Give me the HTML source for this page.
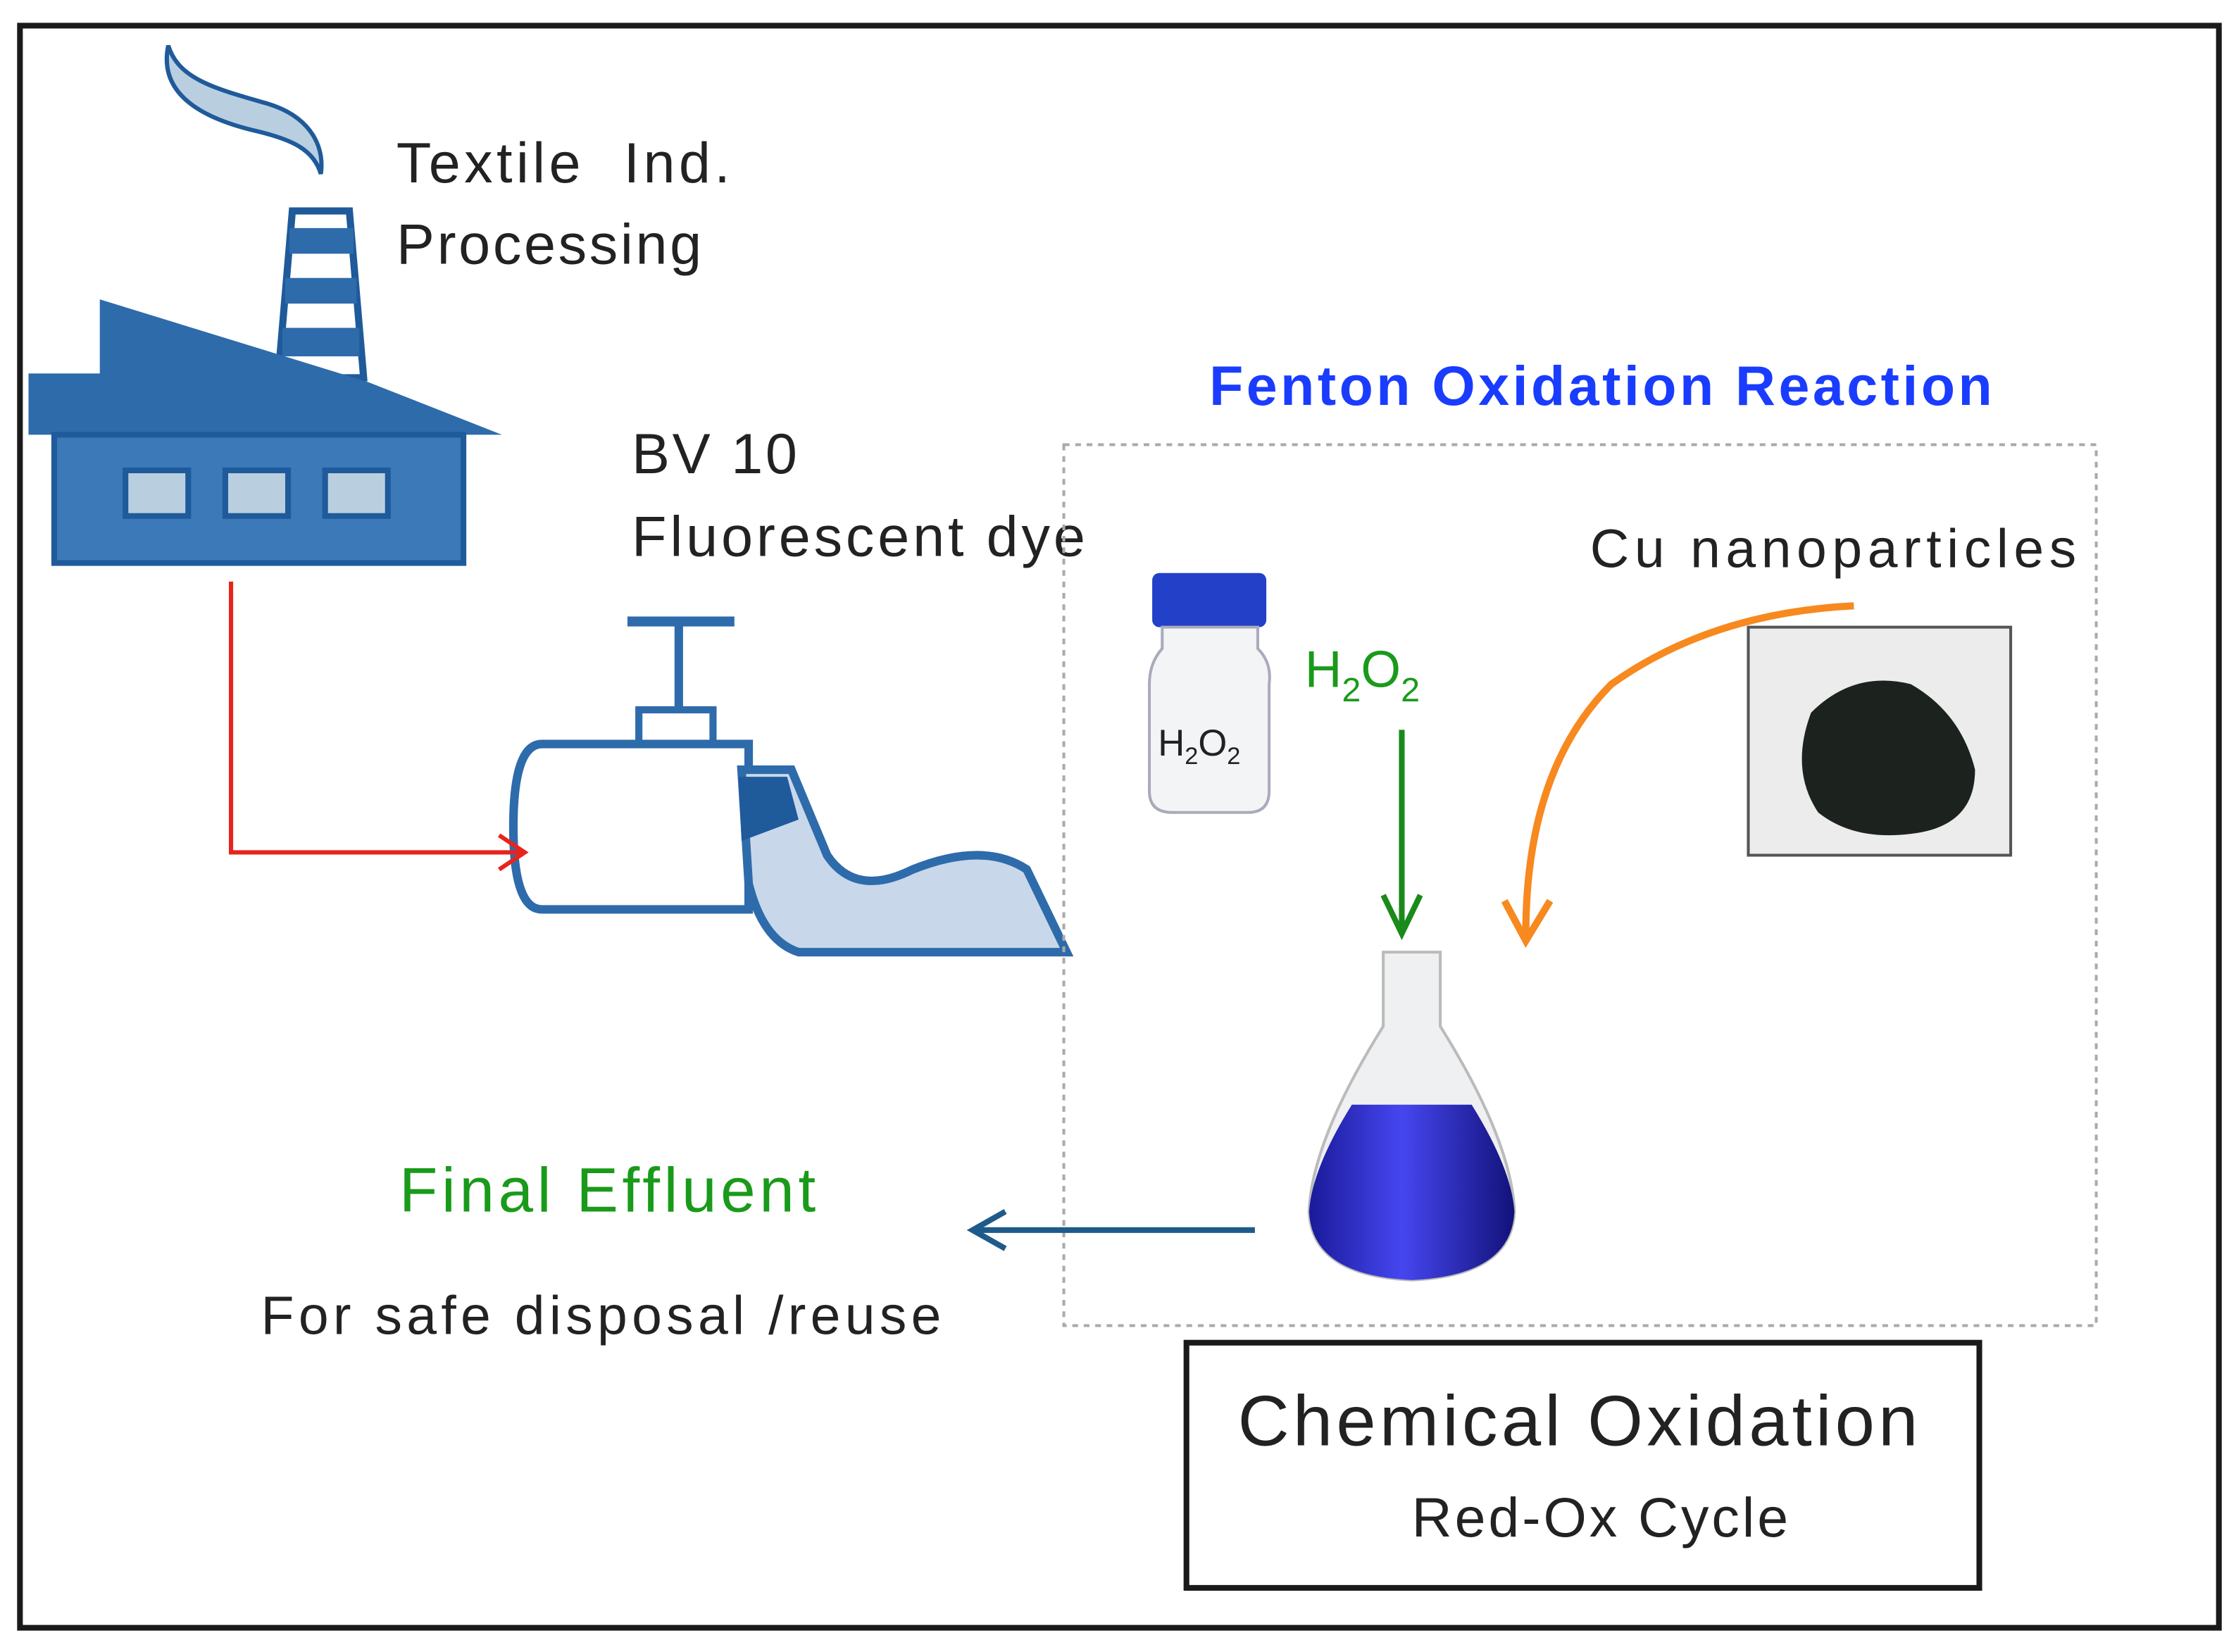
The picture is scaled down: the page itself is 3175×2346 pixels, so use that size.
<!DOCTYPE html>
<html><head><meta charset="utf-8"><style>
html,body{margin:0;padding:0;background:#fff;}
svg{display:block;}
text{font-family:"Liberation Sans",sans-serif;}
</style></head><body>
<svg width="3175" height="2346" viewBox="0 0 1568 1159" preserveAspectRatio="none" xmlns="http://www.w3.org/2000/svg">
<defs>
<linearGradient id="flask" x1="0" y1="0" x2="1" y2="0"><stop offset="0" stop-color="#1a1a9a"/><stop offset="0.45" stop-color="#4646f0"/><stop offset="1" stop-color="#12127a"/></linearGradient>
</defs>
<rect x="0" y="0" width="1568" height="1159" fill="#fff"/>
<rect x="14" y="18" width="1542" height="1124" fill="none" stroke="#1a1a1a" stroke-width="4"/>
<!-- smoke -->
<path d="M118,32 C110,70 150,85 180,92 C205,98 220,105 225,122 C228,100 215,80 185,72 C150,62 125,55 118,32 Z" fill="#b9cfe0" stroke="#1f5a9a" stroke-width="3"/>
<!-- chimney -->
<path d="M205,148 L245,148 L255,265 L195,265 Z" fill="#fff" stroke="#1f5a9a" stroke-width="5"/>
<rect x="203" y="160" width="45" height="18" fill="#2e6bab"/>
<rect x="200" y="195" width="50" height="18" fill="#2e6bab"/>
<rect x="198" y="230" width="54" height="20" fill="#2e6bab"/>
<!-- factory -->
<path d="M20,262 L70,262 L70,210 L258,268 L352,305 L20,305 Z" fill="#2e6bab"/>
<rect x="38" y="305" width="287" height="90" fill="#3b79b8" stroke="#1f5a9a" stroke-width="4"/>
<rect x="88" y="330" width="44" height="32" fill="#b9cfe0" stroke="#1f5a9a" stroke-width="4"/>
<rect x="158" y="330" width="44" height="32" fill="#b9cfe0" stroke="#1f5a9a" stroke-width="4"/>
<rect x="228" y="330" width="44" height="32" fill="#b9cfe0" stroke="#1f5a9a" stroke-width="4"/>
<!-- faucet -->
<path d="M440,436 L515,436" stroke="#2e6bab" stroke-width="7"/>
<path d="M476,436 L476,498" stroke="#2e6bab" stroke-width="6"/>
<rect x="448" y="498" width="52" height="26" fill="#fff" stroke="#2e6bab" stroke-width="5"/>
<path d="M380,522 L525,522 L525,638 L380,638 Q360,638 360,580 Q360,522 380,522 Z" fill="#fff" stroke="#2e6bab" stroke-width="6"/>
<path d="M520,540 L555,540 L580,600 Q600,630 640,610 Q690,590 720,610 L748,668 L560,668 Q535,660 525,620 Z" fill="#c8d8ea" stroke="#2e6bab" stroke-width="6"/>
<path d="M518,545 L552,545 L560,575 L520,590 Z" fill="#1f5a9a"/>
<!-- red line -->
<path d="M162,408 L162,598 L368,598" fill="none" stroke="#e8231c" stroke-width="3"/>
<path d="M350,586 L368,598 L350,610" fill="none" stroke="#e8231c" stroke-width="3"/>
<!-- texts -->
<text x="278" y="128" font-size="40" fill="#222" textLength="234" xml:space="preserve">Textile  Ind.</text>
<text x="278" y="185" font-size="40" fill="#222" textLength="214">Processing</text>
<text x="443" y="332" font-size="40" fill="#222" textLength="116">BV 10</text>
<text x="443" y="390" font-size="40" fill="#222" textLength="318">Fluorescent dye</text>
<text x="848" y="284" font-size="39" font-weight="bold" fill="#1a3cff" textLength="549">Fenton Oxidation Reaction</text>
<rect x="746" y="312" width="724" height="618" fill="none" stroke="#aaa" stroke-width="2" stroke-dasharray="4,4"/>
<text x="1115" y="398" font-size="38" fill="#222" textLength="341">Cu nanoparticles</text>
<!-- bottle -->
<rect x="808" y="402" width="80" height="38" rx="5" fill="#2240c8"/>
<path d="M815,440 L882,440 L882,455 Q892,465 890,480 L890,555 Q890,570 875,570 L822,570 Q806,570 806,555 L806,480 Q806,465 815,455 Z" fill="#f2f4f6" stroke="#aab" stroke-width="2"/>
<text x="812" y="530" font-size="26" fill="#222">H<tspan font-size="17" dy="6">2</tspan><tspan dy="-6">O</tspan><tspan font-size="17" dy="6">2</tspan></text>
<text x="915" y="482" font-size="36" fill="#1a9a1a">H<tspan font-size="24" dy="10">2</tspan><tspan dy="-10">O</tspan><tspan font-size="24" dy="10">2</tspan></text>
<path d="M983,512 L983,650" stroke="#1a8a1a" stroke-width="4"/>
<path d="M970,628 L983,655 L996,628" fill="none" stroke="#1a8a1a" stroke-width="4"/>
<!-- photo -->
<rect x="1226" y="440" width="184" height="160" fill="#ececec" stroke="#555" stroke-width="2"/>
<path d="M1270,500 Q1300,470 1340,480 Q1375,500 1385,540 Q1385,580 1340,585 Q1300,590 1275,570 Q1255,540 1270,500 Z" fill="#1c221e"/>
<!-- orange arrow -->
<path d="M1300,425 Q1200,430 1130,480 Q1070,540 1070,655" fill="none" stroke="#f7891f" stroke-width="5"/>
<path d="M1055,632 L1070,660 L1087,632" fill="none" stroke="#f7891f" stroke-width="5"/>
<!-- flask -->
<path d="M970,668 L1010,668 L1010,720 Q1060,800 1062,850 Q1060,895 990,898 Q920,895 918,850 Q920,800 970,720 Z" fill="#eef0f2" stroke="#bbb" stroke-width="2"/>
<path d="M948,775 L1032,775 Q1060,820 1062,850 Q1060,895 990,898 Q920,895 918,850 Q920,820 948,775 Z" fill="url(#flask)"/>
<!-- blue arrow -->
<path d="M880,863 L685,863" stroke="#1f5a8a" stroke-width="4"/>
<path d="M705,850 L682,863 L705,876" fill="none" stroke="#1f5a8a" stroke-width="4"/>
<text x="280" y="850" font-size="44" fill="#1a9a1a" textLength="292">Final Effluent</text>
<text x="183" y="936" font-size="38" fill="#222" textLength="477">For safe disposal /reuse</text>
<rect x="832" y="942" width="556" height="172" fill="#fff" stroke="#1a1a1a" stroke-width="4"/>
<text x="868" y="1014" font-size="50" fill="#222" textLength="477">Chemical Oxidation</text>
<text x="990" y="1078" font-size="39" fill="#222" textLength="264">Red-Ox Cycle</text>
</svg>
</body></html>
